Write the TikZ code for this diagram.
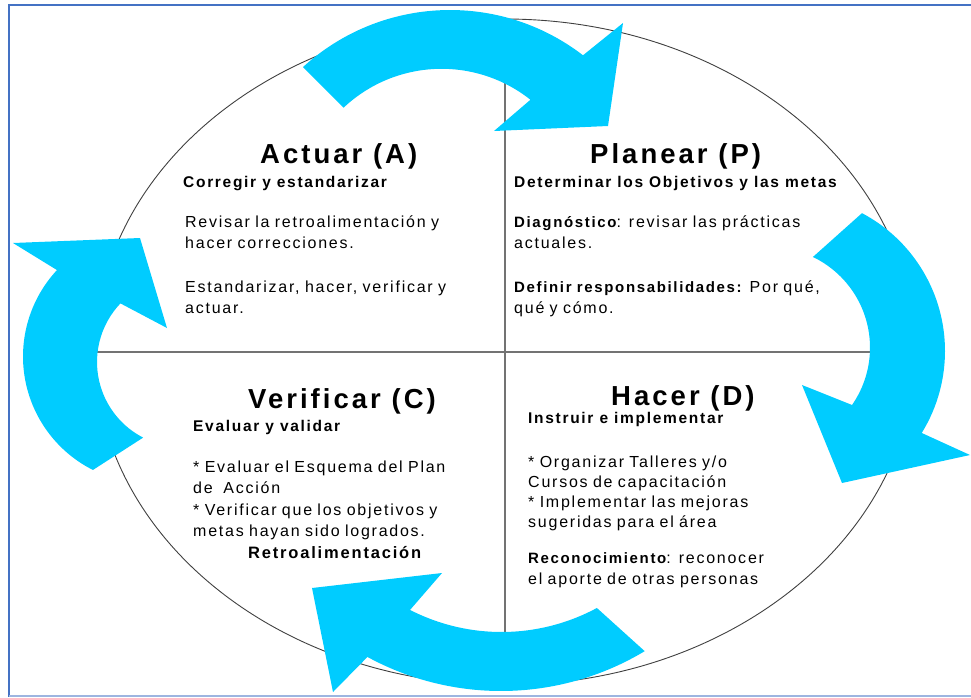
\documentclass[tikz,border=0pt]{standalone}
\usepackage{fontspec}
\usetikzlibrary{calc}
\setmainfont{Liberation Sans}[LetterSpace=11]
\definecolor{ciclocyan}{RGB}{0,204,255}
\definecolor{marcoazul}{RGB}{68,114,196}
\definecolor{marcoclaro}{RGB}{157,181,224}
\newcommand{\resalta}[1]{{\fontsize{15}{20}\selectfont\bfseries #1}}

\begin{document}
\begin{tikzpicture}[x=1pt, y=-1pt]
    \useasboundingbox (0,0) rectangle (971,697);
    \tikzset{Titulo/.style={font=\fontsize{27.5}{30}\selectfont\bfseries, anchor=base west, inner sep=0pt}}
    \tikzset{Subtitulo/.style={font=\fontsize{15.5}{18}\selectfont\bfseries, anchor=base west, inner sep=0pt}}
    \tikzset{Texto/.style={font=\fontsize{16}{21.5}\selectfont, anchor=base west, inner sep=0pt, align=left, text width=330pt}}
    \tikzset{Flecha/.style={fill=ciclocyan}}

    % marco
    \draw[marcoazul, line width=2pt] (971,5) -- (9,5) -- (9,697);
    \draw[marcoclaro, line width=1.5pt] (9,696) -- (971,696);

    % circulo y cuadrantes
    \draw[black!75, line width=0.9pt] (505,352) ellipse [x radius=410, y radius=333];
    \draw[black!55, line width=2pt] (95,352) -- (915,352);
    \draw[black!55, line width=2pt] (505,19) -- (505,685);

    % flechas del ciclo (A -> P -> D -> C -> A)
    \fill[Flecha] ($(450,228)+(-132.4:218)$) arc[start angle=-132.4, end angle=-52.4, radius=218]
        -- (623,23) -- (608,126) -- (494,131)
        -- ($(441.6,211.8)+(-51.6:143)$) arc[start angle=-51.6, end angle=-133.3, radius=143] -- cycle;
    \fill[Flecha] ($(789,351)+(-62.1:156)$) arc[start angle=-62.1, end angle=31.7, radius=156]
        -- (970,455) -- (842,483) -- (802,385)
        -- ($(769.5,347.6)+(34.8:100.5)$) arc[start angle=34.8, end angle=-64.4, radius=100.5] -- cycle;
    \fill[Flecha] ($(501,412)+(59:279)$) arc[start angle=59, end angle=118.6, radius=279]
        -- (333,692) -- (312,588) -- (442,573)
        -- ($(501.6,431)+(117.1:201)$) arc[start angle=117.1, end angle=61.7, radius=201] -- cycle;
    \fill[Flecha] ($(150,356.5)+(116.7:127)$) arc[start angle=116.7, end angle=222.9, radius=127]
        -- (13,243) -- (140,238) -- (167,328)
        -- ($(182,362)+(223.6:85)$) arc[start angle=223.6, end angle=117.2, radius=85] -- cycle;

    % Actuar
    \node[Titulo] (A) at (260,163) {Actuar (A)};
    \node[Subtitulo] (Asub) at (183,187) {Corregir y estandarizar};
    \node[Texto] (Atxt1) at (185,227) {Revisar la retroalimentación y\\hacer correcciones.};
    \node[Texto] (Atxt2) at (185,292) {Estandarizar, hacer, verificar y\\actuar.};

    % Planear
    \node[Titulo] (P) at (590,163) {Planear (P)};
    \node[Subtitulo] (Psub) at (514,187) {Determinar los Objetivos y las metas};
    \node[Texto] (Ptxt1) at (514,227) {\resalta{Diagnóstico}: revisar las prácticas\\actuales.};
    \node[Texto] (Ptxt2) at (514,292) {\resalta{Definir responsabilidades:} Por qué,\\qué y cómo.};

    % Verificar
    \node[Titulo] (C) at (248,408) {Verificar (C)};
    \node[Subtitulo] (Csub) at (193,431) {Evaluar y validar};
    \node[Texto] (Ctxt) at (193,472) {{*} Evaluar el Esquema del Plan\\de\ \ Acción\\{*} Verificar que los objetivos y\\metas hayan sido logrados.};
    \node[Subtitulo, font=\fontsize{16.5}{18}\selectfont\bfseries] (Cret) at (248,558) {Retroalimentación};

    % Hacer
    \node[Titulo] (D) at (611,405) {Hacer (D)};
    \node[Subtitulo] (Dsub) at (528,423) {Instruir e implementar};
    \node[Texto, font=\fontsize{16}{20}\selectfont] (Dtxt1) at (528,467) {{*} Organizar Talleres y/o\\Cursos de capacitación\\{*} Implementar las mejoras\\sugeridas para el área};
    \node[Texto] (Dtxt2) at (528,563) {\resalta{Reconocimiento}: reconocer\\el aporte de otras personas};
\end{tikzpicture}
\end{document}
